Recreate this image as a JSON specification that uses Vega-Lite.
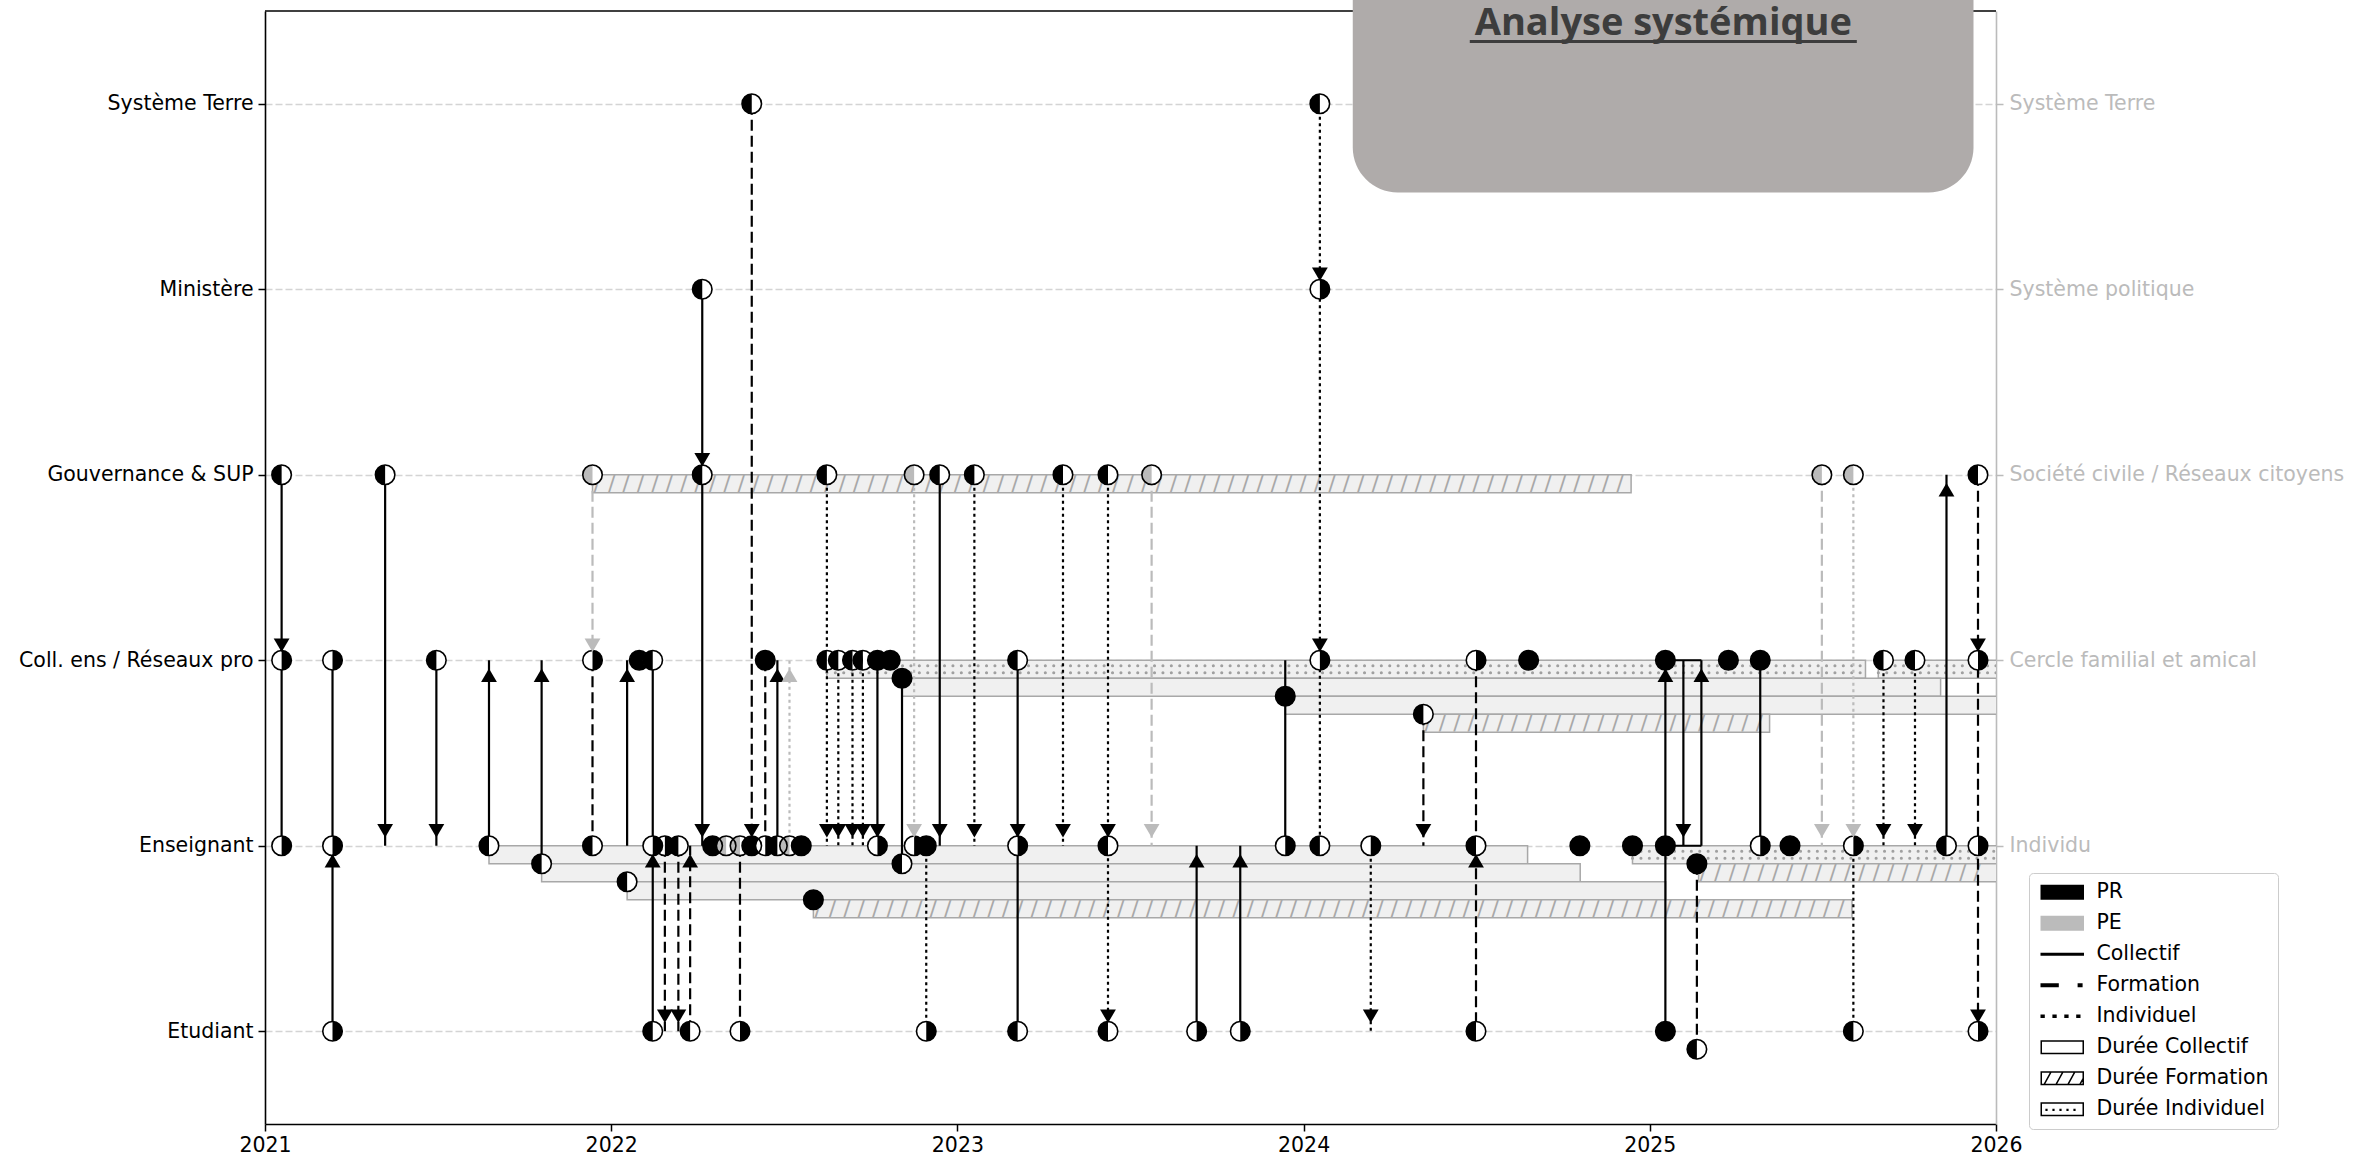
{
"$schema": "https://vega.github.io/schema/vega-lite/v6.json",
"autosize": {"type": "none"},
"padding": {"left": 265, "top": 11, "right": 361, "bottom": 43},
"width": 1731,
"height": 1113,
"background": "white",
"config": {"view": {"stroke": null}},
"datasets": {
"bars": [
{"x":2021.946,"x2":2024.946,"y":3,"y2":2.903,"k":"F"},
{"x":2022.623,"x2":2025.623,"y":2,"y2":1.903,"k":"I"},
{"x":2025.66,"x2":2028.66,"y":2,"y2":1.903,"k":"I"},
{"x":2022.84,"x2":2025.84,"y":1.903,"y2":1.806,"k":"C"},
{"x":2023.947,"x2":2026.947,"y":1.806,"y2":1.709,"k":"C"},
{"x":2024.346,"x2":2025.346,"y":1.709,"y2":1.612,"k":"F"},
{"x":2021.647,"x2":2024.647,"y":1,"y2":0.903,"k":"C"},
{"x":2021.799,"x2":2024.799,"y":0.903,"y2":0.806,"k":"C"},
{"x":2022.046,"x2":2025.046,"y":0.806,"y2":0.709,"k":"C"},
{"x":2022.584,"x2":2025.584,"y":0.709,"y2":0.612,"k":"F"},
{"x":2024.95,"x2":2027.95,"y":1,"y2":0.903,"k":"I"},
{"x":2025.141,"x2":2028.141,"y":0.903,"y2":0.806,"k":"F"}
],
"segs": [
{"x":2021.048,"y":3,"y2":2,"s":"C"},
{"x":2021.048,"y":2,"y2":1,"s":"C"},
{"x":2021.195,"y":2,"y2":1,"s":"C"},
{"x":2021.195,"y":0,"y2":1,"s":"C"},
{"x":2021.347,"y":3,"y2":1,"s":"C"},
{"x":2021.495,"y":2,"y2":1,"s":"C"},
{"x":2021.647,"y":1,"y2":2,"s":"C"},
{"x":2021.799,"y":0.903,"y2":2,"s":"C"},
{"x":2021.946,"y":3,"y2":2,"s":"F","a":"PE"},
{"x":2021.946,"y":2,"y2":1,"s":"F"},
{"x":2022.046,"y":1,"y2":2,"s":"C"},
{"x":2022.12,"y":2,"y2":1,"s":"C"},
{"x":2022.12,"y":0,"y2":1,"s":"C"},
{"x":2022.155,"y":1,"y2":0,"s":"F"},
{"x":2022.194,"y":1,"y2":0,"s":"F"},
{"x":2022.228,"y":0,"y2":1,"s":"F"},
{"x":2022.263,"y":4,"y2":1,"s":"C"},
{"x":2022.372,"y":1,"y2":0,"s":"F"},
{"x":2022.406,"y":5,"y2":1,"s":"F"},
{"x":2022.445,"y":2,"y2":1,"s":"F"},
{"x":2022.48,"y":1,"y2":2,"s":"C"},
{"x":2022.515,"y":1,"y2":2,"s":"I","a":"PE"},
{"x":2022.623,"y":3,"y2":1,"s":"I"},
{"x":2022.656,"y":2,"y2":1,"s":"I"},
{"x":2022.697,"y":2,"y2":1,"s":"I"},
{"x":2022.727,"y":2,"y2":1,"s":"I"},
{"x":2022.769,"y":2,"y2":1,"s":"C"},
{"x":2022.84,"y":1.903,"y2":0.903,"s":"C"},
{"x":2022.875,"y":3,"y2":1,"s":"I","a":"PE"},
{"x":2022.91,"y":1,"y2":0,"s":"I"},
{"x":2022.949,"y":3,"y2":1,"s":"C"},
{"x":2023.049,"y":3,"y2":1,"s":"I"},
{"x":2023.174,"y":2,"y2":0,"s":"C"},
{"x":2023.305,"y":3,"y2":1,"s":"I"},
{"x":2023.435,"y":3,"y2":0,"s":"I"},
{"x":2023.561,"y":3,"y2":1,"s":"F","a":"PE"},
{"x":2023.691,"y":0,"y2":1,"s":"C"},
{"x":2023.817,"y":0,"y2":1,"s":"C"},
{"x":2023.947,"y":2,"y2":1,"s":"C"},
{"x":2024.047,"y":5,"y2":1,"s":"I"},
{"x":2024.194,"y":1,"y2":0,"s":"I"},
{"x":2024.346,"y":1.709,"y2":1,"s":"F"},
{"x":2024.498,"y":2,"y2":0,"s":"F"},
{"x":2025.045,"y":0,"y2":2,"s":"C"},
{"x":2025.097,"y":2,"y2":1,"s":"C"},
{"x":2025.149,"y":1,"y2":2,"s":"C"},
{"x":2025.136,"y":0.903,"y2":-0.097,"s":"F"},
{"x":2025.319,"y":2,"y2":1,"s":"C"},
{"x":2025.497,"y":3,"y2":1,"s":"F","a":"PE"},
{"x":2025.588,"y":3,"y2":1,"s":"I","a":"PE"},
{"x":2025.588,"y":1,"y2":0,"s":"I"},
{"x":2025.675,"y":2,"y2":1,"s":"I"},
{"x":2025.766,"y":2,"y2":1,"s":"I"},
{"x":2025.857,"y":1,"y2":3,"s":"C"},
{"x":2025.948,"y":3,"y2":0,"s":"F"}
],
"hlines": [
{"x":2025.045,"x2":2025.149,"y":2},
{"x":2025.045,"x2":2025.149,"y":1}
],
"points": [
{"x":2022.406,"y":5,"h":"L"},{"x":2024.047,"y":5,"h":"L"},
{"x":2022.263,"y":4,"h":"L"},{"x":2024.047,"y":4,"h":"R"},
{"x":2021.048,"y":3,"h":"L"},{"x":2021.347,"y":3,"h":"L"},{"x":2021.946,"y":3,"h":"L","a":"PE"},{"x":2022.263,"y":3,"h":"L"},{"x":2022.623,"y":3,"h":"L"},{"x":2022.875,"y":3,"h":"L","a":"PE"},{"x":2022.949,"y":3,"h":"L"},{"x":2023.049,"y":3,"h":"L"},{"x":2023.305,"y":3,"h":"L"},{"x":2023.435,"y":3,"h":"L"},{"x":2023.561,"y":3,"h":"L","a":"PE"},{"x":2025.497,"y":3,"h":"L","a":"PE"},{"x":2025.588,"y":3,"h":"L","a":"PE"},{"x":2025.948,"y":3,"h":"L"},
{"x":2021.048,"y":2,"h":"R"},{"x":2021.195,"y":2,"h":"R"},{"x":2021.495,"y":2,"h":"L"},{"x":2021.946,"y":2,"h":"R"},{"x":2022.081,"y":2,"h":"F"},{"x":2022.12,"y":2,"h":"L"},{"x":2022.445,"y":2,"h":"F"},{"x":2022.623,"y":2,"h":"L"},{"x":2022.656,"y":2,"h":"L"},{"x":2022.697,"y":2,"h":"L"},{"x":2022.727,"y":2,"h":"L"},{"x":2022.769,"y":2,"h":"F"},{"x":2022.806,"y":2,"h":"F"},{"x":2023.174,"y":2,"h":"L"},{"x":2024.047,"y":2,"h":"R"},{"x":2024.498,"y":2,"h":"R"},{"x":2024.65,"y":2,"h":"F"},{"x":2025.045,"y":2,"h":"F"},{"x":2025.227,"y":2,"h":"F"},{"x":2025.319,"y":2,"h":"F"},{"x":2025.675,"y":2,"h":"L"},{"x":2025.766,"y":2,"h":"L"},{"x":2025.948,"y":2,"h":"R"},
{"x":2022.84,"y":1.903,"h":"F"},{"x":2023.947,"y":1.806,"h":"F"},{"x":2024.346,"y":1.709,"h":"L"},
{"x":2021.048,"y":1,"h":"R"},{"x":2021.195,"y":1,"h":"R"},{"x":2021.647,"y":1,"h":"L"},{"x":2021.946,"y":1,"h":"L"},{"x":2022.12,"y":1,"h":"R"},{"x":2022.155,"y":1,"h":"R"},{"x":2022.194,"y":1,"h":"L"},{"x":2022.293,"y":1,"h":"F"},{"x":2022.332,"y":1,"h":"L","a":"PE"},{"x":2022.372,"y":1,"h":"L","a":"PE"},{"x":2022.406,"y":1,"h":"F"},{"x":2022.445,"y":1,"h":"R"},{"x":2022.48,"y":1,"h":"L"},{"x":2022.515,"y":1,"h":"L","a":"PE"},{"x":2022.549,"y":1,"h":"F"},{"x":2022.769,"y":1,"h":"R"},{"x":2022.875,"y":1,"h":"R"},{"x":2022.91,"y":1,"h":"F"},{"x":2023.174,"y":1,"h":"R"},{"x":2023.435,"y":1,"h":"L"},{"x":2023.947,"y":1,"h":"R"},{"x":2024.047,"y":1,"h":"L"},{"x":2024.194,"y":1,"h":"R"},{"x":2024.498,"y":1,"h":"L"},{"x":2024.798,"y":1,"h":"F"},{"x":2024.95,"y":1,"h":"F"},{"x":2025.045,"y":1,"h":"F"},{"x":2025.319,"y":1,"h":"R"},{"x":2025.405,"y":1,"h":"F"},{"x":2025.588,"y":1,"h":"R"},{"x":2025.857,"y":1,"h":"L"},{"x":2025.948,"y":1,"h":"R"},
{"x":2021.799,"y":0.903,"h":"L"},{"x":2022.046,"y":0.806,"h":"L"},{"x":2022.584,"y":0.709,"h":"F"},{"x":2022.84,"y":0.903,"h":"L"},{"x":2025.136,"y":0.903,"h":"F"},
{"x":2021.195,"y":0,"h":"R"},{"x":2022.12,"y":0,"h":"L"},{"x":2022.228,"y":0,"h":"L"},{"x":2022.372,"y":0,"h":"R"},{"x":2022.91,"y":0,"h":"R"},{"x":2023.174,"y":0,"h":"L"},{"x":2023.435,"y":0,"h":"L"},{"x":2023.691,"y":0,"h":"R"},{"x":2023.817,"y":0,"h":"R"},{"x":2024.498,"y":0,"h":"L"},{"x":2025.045,"y":0,"h":"F"},{"x":2025.588,"y":0,"h":"L"},{"x":2025.948,"y":0,"h":"R"},
{"x":2025.136,"y":-0.097,"h":"L"}
],
"arrows": [
{"x":2021.048,"y":2,"d":"down"},{"x":2021.347,"y":1,"d":"down"},{"x":2021.495,"y":1,"d":"down"},{"x":2021.946,"y":2,"d":"down","a":"PE"},{"x":2022.155,"y":0,"d":"down"},{"x":2022.194,"y":0,"d":"down"},{"x":2022.263,"y":3,"d":"down"},{"x":2022.263,"y":1,"d":"down"},{"x":2022.406,"y":1,"d":"down"},{"x":2022.623,"y":1,"d":"down"},{"x":2022.656,"y":1,"d":"down"},{"x":2022.697,"y":1,"d":"down"},{"x":2022.727,"y":1,"d":"down"},{"x":2022.769,"y":1,"d":"down"},{"x":2022.875,"y":1,"d":"down","a":"PE"},{"x":2022.949,"y":1,"d":"down"},{"x":2023.049,"y":1,"d":"down"},{"x":2023.174,"y":1,"d":"down"},{"x":2023.305,"y":1,"d":"down"},{"x":2023.435,"y":1,"d":"down"},{"x":2023.435,"y":0,"d":"down"},{"x":2023.561,"y":1,"d":"down","a":"PE"},{"x":2024.047,"y":4,"d":"down"},{"x":2024.047,"y":2,"d":"down"},{"x":2024.194,"y":0,"d":"down"},{"x":2024.346,"y":1,"d":"down"},{"x":2025.097,"y":1,"d":"down"},{"x":2025.497,"y":1,"d":"down","a":"PE"},{"x":2025.588,"y":1,"d":"down","a":"PE"},{"x":2025.675,"y":1,"d":"down"},{"x":2025.766,"y":1,"d":"down"},{"x":2025.948,"y":2,"d":"down"},{"x":2025.948,"y":0,"d":"down"},
{"x":2021.195,"y":1,"d":"up"},{"x":2021.647,"y":2,"d":"up"},{"x":2021.799,"y":2,"d":"up"},{"x":2022.046,"y":2,"d":"up"},{"x":2022.12,"y":1,"d":"up"},{"x":2022.228,"y":1,"d":"up"},{"x":2022.48,"y":2,"d":"up"},{"x":2022.515,"y":2,"d":"up","a":"PE"},{"x":2023.691,"y":1,"d":"up"},{"x":2023.817,"y":1,"d":"up"},{"x":2024.498,"y":1,"d":"up"},{"x":2025.045,"y":2,"d":"up"},{"x":2025.149,"y":2,"d":"up"},{"x":2025.857,"y":3,"d":"up"}
]
},
"resolve": {"axis": {"x": "independent", "y": "independent"}},
"layer": [
{
"data": {"values": [{}]},
"mark": {"type": "rule", "color": "black", "strokeWidth": 1.6},
"encoding": {"y": {"datum": 5.5, "type": "quantitative", "scale": {"domain": [-0.5, 5.5], "nice": false, "zero": false}, "axis": null}}
},
{
"data": {"name": "bars"},
"mark": {"type": "rect", "fill": "#f0f0f0", "stroke": "#a8a8a8", "strokeWidth": 1.5, "clip": true},
"encoding": {
"x": {"field": "x", "type": "quantitative", "scale": {"domain": [2021, 2026], "nice": false, "zero": false},
"axis": {"orient": "bottom", "values": [2021, 2022, 2023, 2024, 2025, 2026], "format": "d", "title": null, "grid": false, "labelFlush": false, "tickSize": 7, "tickWidth": 1.5, "tickColor": "black", "domainColor": "black", "domainWidth": 1.6, "labelFontSize": 20.5, "labelFont": "DejaVu Sans", "labelColor": "black", "labelPadding": 4}},
"x2": {"field": "x2"},
"y": {"field": "y", "type": "quantitative", "scale": {"domain": [-0.5, 5.5], "nice": false, "zero": false},
"axis": {"orient": "left", "values": [0, 1, 2, 3, 4, 5], "title": null, "labelExpr": "datum.value == 5 ? 'Système Terre' : datum.value == 4 ? 'Ministère' : datum.value == 3 ? 'Gouvernance & SUP' : datum.value == 2 ? 'Coll. ens / Réseaux pro' : datum.value == 1 ? 'Enseignant' : 'Etudiant'", "grid": true, "gridColor": "#d4d4d4", "gridDash": [7, 3], "gridWidth": 1.3, "tickSize": 7, "tickWidth": 1.5, "tickColor": "black", "domainColor": "black", "domainWidth": 1.6, "labelFontSize": 20.5, "labelFont": "DejaVu Sans", "labelColor": "black", "labelPadding": 5, "labelLimit": 400}},
"y2": {"field": "y2"}
}
},
{
"data": {"name": "bars"},
"transform": [{"filter": "datum.k === 'F'"}, {"calculate": "pad('', floor((min(datum.x2, 2026) - datum.x) * 24.04), '/ ')", "as": "hatch"}],
"mark": {"type": "text", "align": "left", "baseline": "middle", "font": "DejaVu Sans", "fontSize": 22, "fill": "#a8a8a8", "yOffset": 9, "dx": 1, "clip": true},
"encoding": {
"x": {"field": "x", "type": "quantitative", "scale": {"domain": [2021, 2026], "nice": false, "zero": false}, "axis": null},
"y": {"field": "y", "type": "quantitative", "scale": {"domain": [-0.5, 5.5], "nice": false, "zero": false}, "axis": null},
"text": {"field": "hatch"}
}
},
{
"data": {"name": "bars"},
"transform": [{"filter": "datum.k === 'I'"}],
"mark": {"type": "rule", "stroke": "#a0a0a0", "strokeWidth": 3, "strokeCap": "round", "strokeDash": [0.1, 8.3], "yOffset": 5.5, "clip": true},
"encoding": {
"x": {"field": "x", "type": "quantitative", "scale": {"domain": [2021, 2026], "nice": false, "zero": false}, "axis": null},
"x2": {"field": "x2"},
"y": {"field": "y", "type": "quantitative", "scale": {"domain": [-0.5, 5.5], "nice": false, "zero": false}, "axis": null}
}
},
{
"data": {"name": "bars"},
"transform": [{"filter": "datum.k === 'I'"}],
"mark": {"type": "rule", "stroke": "#a0a0a0", "strokeWidth": 3, "strokeCap": "round", "strokeDash": [0.1, 8.3], "yOffset": 12.5, "clip": true},
"encoding": {
"x": {"field": "x", "type": "quantitative", "scale": {"domain": [2021, 2026], "nice": false, "zero": false}, "axis": null},
"x2": {"field": "x2"},
"y": {"field": "y", "type": "quantitative", "scale": {"domain": [-0.5, 5.5], "nice": false, "zero": false}, "axis": null}
}
},
{
"data": {"name": "segs"},
"transform": [{"filter": "datum.s === 'C'"}],
"mark": {"type": "rule", "strokeWidth": 2.2},
"encoding": {
"x": {"field": "x", "type": "quantitative", "scale": {"domain": [2021, 2026], "nice": false, "zero": false}, "axis": null},
"y": {"field": "y", "type": "quantitative", "scale": {"domain": [-0.5, 5.5], "nice": false, "zero": false},
"axis": {"orient": "right", "values": [1, 2, 3, 4, 5], "title": null, "labelExpr": "datum.value == 5 ? 'Système Terre' : datum.value == 4 ? 'Système politique' : datum.value == 3 ? 'Société civile / Réseaux citoyens' : datum.value == 2 ? 'Cercle familial et amical' : 'Individu'", "grid": false, "tickSize": 7, "tickWidth": 1.5, "tickColor": "#bbbbbb", "domainColor": "#bbbbbb", "domainWidth": 1.6, "labelFontSize": 20.5, "labelFont": "DejaVu Sans", "labelColor": "#bbbbbb", "labelPadding": 6, "labelLimit": 400}},
"y2": {"field": "y2"},
"stroke": {"condition": {"test": "datum.a === 'PE'", "value": "#bbbbbb"}, "value": "black"}
}
},
{
"data": {"name": "segs"},
"transform": [{"filter": "datum.s === 'F'"}],
"mark": {"type": "rule", "strokeWidth": 2.2, "strokeDash": [11, 5]},
"encoding": {
"x": {"field": "x", "type": "quantitative", "scale": {"domain": [2021, 2026], "nice": false, "zero": false}, "axis": null},
"y": {"field": "y", "type": "quantitative", "scale": {"domain": [-0.5, 5.5], "nice": false, "zero": false}, "axis": null},
"y2": {"field": "y2"},
"stroke": {"condition": {"test": "datum.a === 'PE'", "value": "#bbbbbb"}, "value": "black"}
}
},
{
"data": {"name": "segs"},
"transform": [{"filter": "datum.s === 'I'"}],
"mark": {"type": "rule", "strokeWidth": 2.2, "strokeDash": [3, 3.5]},
"encoding": {
"x": {"field": "x", "type": "quantitative", "scale": {"domain": [2021, 2026], "nice": false, "zero": false}, "axis": null},
"y": {"field": "y", "type": "quantitative", "scale": {"domain": [-0.5, 5.5], "nice": false, "zero": false}, "axis": null},
"y2": {"field": "y2"},
"stroke": {"condition": {"test": "datum.a === 'PE'", "value": "#bbbbbb"}, "value": "black"}
}
},
{
"data": {"name": "hlines"},
"mark": {"type": "rule", "strokeWidth": 2.2, "color": "black"},
"encoding": {
"x": {"field": "x", "type": "quantitative", "scale": {"domain": [2021, 2026], "nice": false, "zero": false}, "axis": null},
"x2": {"field": "x2"},
"y": {"field": "y", "type": "quantitative", "scale": {"domain": [-0.5, 5.5], "nice": false, "zero": false}, "axis": null}
}
},
{
"data": {"name": "points"},
"mark": {"type": "point", "shape": "circle", "size": 380, "filled": true, "opacity": 1, "strokeWidth": 0},
"encoding": {
"x": {"field": "x", "type": "quantitative", "scale": {"domain": [2021, 2026], "nice": false, "zero": false}, "axis": null},
"y": {"field": "y", "type": "quantitative", "scale": {"domain": [-0.5, 5.5], "nice": false, "zero": false}, "axis": null},
"fill": {"condition": {"test": "datum.h === 'F'", "value": "black"}, "value": "white"}
}
},
{
"data": {"name": "points"},
"transform": [{"filter": "datum.h === 'L'"}],
"mark": {"type": "point", "shape": "M0,-1A1,1,0,0,0,0,1Z", "size": 380, "filled": true, "opacity": 1, "strokeWidth": 0},
"encoding": {
"x": {"field": "x", "type": "quantitative", "scale": {"domain": [2021, 2026], "nice": false, "zero": false}, "axis": null},
"y": {"field": "y", "type": "quantitative", "scale": {"domain": [-0.5, 5.5], "nice": false, "zero": false}, "axis": null},
"fill": {"condition": {"test": "datum.a === 'PE'", "value": "#bbbbbb"}, "value": "black"}
}
},
{
"data": {"name": "points"},
"transform": [{"filter": "datum.h === 'R'"}],
"mark": {"type": "point", "shape": "M0,-1A1,1,0,0,1,0,1Z", "size": 380, "filled": true, "opacity": 1, "strokeWidth": 0},
"encoding": {
"x": {"field": "x", "type": "quantitative", "scale": {"domain": [2021, 2026], "nice": false, "zero": false}, "axis": null},
"y": {"field": "y", "type": "quantitative", "scale": {"domain": [-0.5, 5.5], "nice": false, "zero": false}, "axis": null},
"fill": {"condition": {"test": "datum.a === 'PE'", "value": "#bbbbbb"}, "value": "black"}
}
},
{
"data": {"name": "points"},
"mark": {"type": "point", "shape": "circle", "size": 380, "filled": false, "opacity": 1, "stroke": "black", "strokeWidth": 1.6},
"encoding": {
"x": {"field": "x", "type": "quantitative", "scale": {"domain": [2021, 2026], "nice": false, "zero": false}, "axis": null},
"y": {"field": "y", "type": "quantitative", "scale": {"domain": [-0.5, 5.5], "nice": false, "zero": false}, "axis": null}
}
},
{
"data": {"name": "arrows"},
"transform": [{"filter": "datum.d === 'down'"}],
"mark": {"type": "point", "shape": "triangle-down", "size": 250, "filled": true, "opacity": 1, "strokeWidth": 0, "yOffset": -15},
"encoding": {
"x": {"field": "x", "type": "quantitative", "scale": {"domain": [2021, 2026], "nice": false, "zero": false}, "axis": null},
"y": {"field": "y", "type": "quantitative", "scale": {"domain": [-0.5, 5.5], "nice": false, "zero": false}, "axis": null},
"fill": {"condition": {"test": "datum.a === 'PE'", "value": "#bbbbbb"}, "value": "black"}
}
},
{
"data": {"name": "arrows"},
"transform": [{"filter": "datum.d === 'up'"}],
"mark": {"type": "point", "shape": "triangle-up", "size": 250, "filled": true, "opacity": 1, "strokeWidth": 0, "yOffset": 15},
"encoding": {
"x": {"field": "x", "type": "quantitative", "scale": {"domain": [2021, 2026], "nice": false, "zero": false}, "axis": null},
"y": {"field": "y", "type": "quantitative", "scale": {"domain": [-0.5, 5.5], "nice": false, "zero": false}, "axis": null},
"fill": {"condition": {"test": "datum.a === 'PE'", "value": "#bbbbbb"}, "value": "black"}
}
},
{
"data": {"values": [{"x": 2024.142, "x2": 2025.935, "y": 4.522, "y2": 5.8}]},
"mark": {"type": "rect", "fill": "#afabaa", "cornerRadius": 45},
"encoding": {
"x": {"field": "x", "type": "quantitative", "scale": {"domain": [2021, 2026], "nice": false, "zero": false}, "axis": null},
"x2": {"field": "x2"},
"y": {"field": "y", "type": "quantitative", "scale": {"domain": [-0.5, 5.5], "nice": false, "zero": false}, "axis": null},
"y2": {"field": "y2"}
}
},
{
"data": {"values": [{"x": 2024.48, "x2": 2025.598, "y": 5.335}]},
"mark": {"type": "rule", "color": "#3d3d3d", "strokeWidth": 3},
"encoding": {
"x": {"field": "x", "type": "quantitative", "scale": {"domain": [2021, 2026], "nice": false, "zero": false}, "axis": null},
"x2": {"field": "x2"},
"y": {"field": "y", "type": "quantitative", "scale": {"domain": [-0.5, 5.5], "nice": false, "zero": false}, "axis": null}
}
},
{
"data": {"values": [{"x": 2025.039, "y": 5.43, "t": "Analyse systémique"}]},
"mark": {"type": "text", "font": "Open Sans", "fontWeight": "bold", "fontSize": 38, "fill": "#3d3d3d", "align": "center", "baseline": "middle"},
"encoding": {
"x": {"field": "x", "type": "quantitative", "scale": {"domain": [2021, 2026], "nice": false, "zero": false}, "axis": null},
"y": {"field": "y", "type": "quantitative", "scale": {"domain": [-0.5, 5.5], "nice": false, "zero": false}, "axis": null},
"text": {"field": "t"}
}
},
{
"data": {"values": [{"leg": "PR"}]},
"transform": [{"filter": "false"}],
"mark": {"type": "point", "filled": true},
"encoding": {
"shape": {"field": "leg", "type": "nominal",
"scale": {"domain": ["PR", "PE", "Collectif", "Formation", "Individuel", "Durée Collectif", "Durée Formation", "Durée Individuel"],
"range": ["M-1,-0.95H5V0.95H-1Z", "M-1,-0.95H5V0.95H-1Z", "M-1,-0.12H5V0.12H-1Z", "M-1,-0.18H1.4V0.18H-1Z M4.3,-0.18H4.8V0.18H4.3Z", "M-1,-0.16H-0.6V0.16H-1Z M0.7,-0.16H1.1V0.16H0.7Z M2.4,-0.16H2.8V0.16H2.4Z M4.1,-0.16H4.5V0.16H4.1Z", "M-1,-0.9H5V0.9H-1Z", "M-1,-0.9H5V0.9H-1Z M-0.6,0.9L0.4,-0.9 M1.1,0.9L2.1,-0.9 M2.8,0.9L3.8,-0.9 M4.5,0.9L5,0", "M-1,-0.9H5V0.9H-1Z M-0.3,0.05h0.1v0.1h-0.1Z M0.7,0.05h0.1v0.1h-0.1Z M1.7,0.05h0.1v0.1h-0.1Z M2.7,0.05h0.1v0.1h-0.1Z M3.7,0.05h0.1v0.1h-0.1Z"]},
"legend": {"orient": "none", "legendX": 1764, "legendY": 862, "title": null, "symbolSize": 196, "symbolStrokeWidth": 1.5, "labelFontSize": 20.5, "labelFont": "DejaVu Sans", "labelColor": "black", "labelOffset": 38, "labelLimit": 400, "rowPadding": 10, "padding": 9, "strokeColor": "#cccccc", "fillColor": "white", "cornerRadius": 4, "symbolOpacity": 1}},
"fill": {"field": "leg", "type": "nominal",
"scale": {"domain": ["PR", "PE", "Collectif", "Formation", "Individuel", "Durée Collectif", "Durée Formation", "Durée Individuel"],
"range": ["black", "#bbbbbb", "black", "black", "black", "white", "white", "white"]},
"legend": {"orient": "none", "legendX": 1764, "legendY": 862, "title": null, "symbolSize": 196, "symbolStrokeWidth": 1.5, "labelFontSize": 20.5, "labelFont": "DejaVu Sans", "labelColor": "black", "labelOffset": 38, "labelLimit": 400, "rowPadding": 10, "padding": 9, "strokeColor": "#cccccc", "fillColor": "white", "cornerRadius": 4, "symbolOpacity": 1}},
"stroke": {"field": "leg", "type": "nominal",
"scale": {"domain": ["PR", "PE", "Collectif", "Formation", "Individuel", "Durée Collectif", "Durée Formation", "Durée Individuel"],
"range": ["black", "#bbbbbb", "black", "black", "black", "black", "black", "black"]},
"legend": {"orient": "none", "legendX": 1764, "legendY": 862, "title": null, "symbolSize": 196, "symbolStrokeWidth": 1.5, "labelFontSize": 20.5, "labelFont": "DejaVu Sans", "labelColor": "black", "labelOffset": 38, "labelLimit": 400, "rowPadding": 10, "padding": 9, "strokeColor": "#cccccc", "fillColor": "white", "cornerRadius": 4, "symbolOpacity": 1}}
}
}
]
}
